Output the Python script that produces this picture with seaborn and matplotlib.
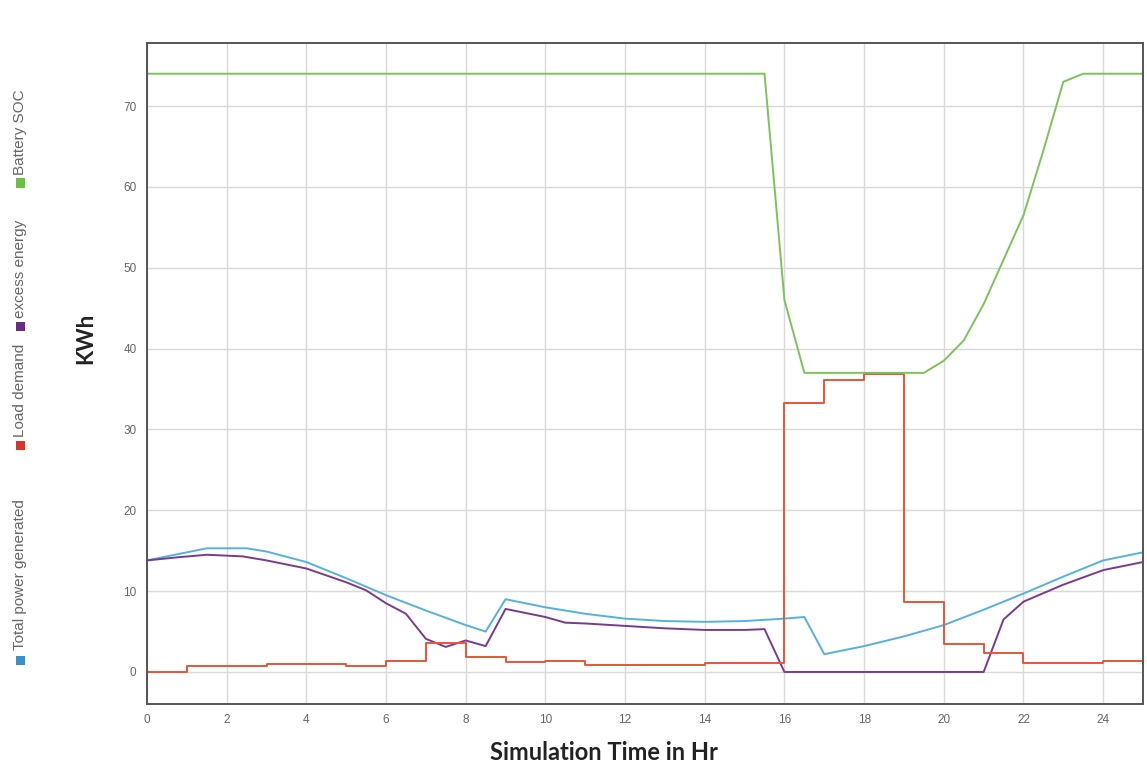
import matplotlib
matplotlib.use("Agg")
import matplotlib.pyplot as plt
from matplotlib.patches import Rectangle
import seaborn as sns

# Hourly simulation series (kWh)
gen_hours = [0, 0.8, 1.5, 2.5, 3, 4, 5, 6, 7, 8, 8.5, 9, 10, 11, 12, 13, 14, 15,
             16, 16.5, 17, 18, 19, 20, 21, 22, 23, 24, 25]
gen_kwh = [13.8, 14.6, 15.3, 15.3, 14.9, 13.6, 11.6, 9.5, 7.6, 5.8, 5.0, 9.0, 8.0,
           7.2, 6.6, 6.3, 6.2, 6.3, 6.6, 6.8, 2.2, 3.2, 4.4, 5.8, 7.7, 9.7, 11.8,
           13.8, 14.8]

load_hours = [0, 1, 3, 5, 6, 7, 8, 9, 10, 11, 14, 16, 17, 18, 19, 20, 21, 22, 24, 25]
load_kwh = [0, 0.8, 1.0, 0.8, 1.4, 3.6, 1.9, 1.2, 1.3, 0.9, 1.1, 33.3, 36.1, 36.8,
            8.7, 3.4, 2.3, 1.1, 1.3, 1.3]

excess_hours = [0, 0.8, 1.5, 2.4, 3, 4, 5, 5.5, 6, 6.5, 7, 7.5, 8, 8.5, 9, 10,
                10.5, 11, 12, 13, 14, 15, 15.5, 16, 21, 21.5, 22, 23, 24, 25]
excess_kwh = [13.8, 14.2, 14.5, 14.3, 13.8, 12.8, 11.1, 10.1, 8.5, 7.2, 4.1, 3.1,
              3.9, 3.2, 7.8, 6.8, 6.1, 6.0, 5.7, 5.4, 5.2, 5.2, 5.3, 0, 0, 6.5,
              8.7, 10.8, 12.6, 13.6]

soc_hours = [0, 15.5, 16, 16.5, 19.5, 20, 20.5, 21, 21.5, 22, 22.5, 23, 23.5, 25]
soc_kwh = [74, 74, 46, 37, 37, 38.5, 41, 45.5, 51, 56.5, 64.5, 73, 74, 74]

series_names = ["Total power generated", "Load demand", "excess energy", "Battery SOC"]
line_colors = ["#55b2dc", "#e8563a", "#7a3b8f", "#7cc35a"]
swatch_colors = ["#3b8fd0", "#d9352a", "#6a2c8a", "#6abf45"]

x_ticks = list(range(0, 25, 2))
y_ticks = [0, 10, 20, 30, 40, 50, 60, 70]

sns.set_style("white")
plt.rcParams["font.family"] = ["Liberation Sans", "DejaVu Sans"]

fig = plt.figure(figsize=(11.47, 7.69), dpi=100)
ax = fig.add_axes([147 / 1147, 65 / 769, 996 / 1147, 661 / 769])

lw = 1.4
sns.lineplot(x=gen_hours, y=gen_kwh, ax=ax, color=line_colors[0], lw=lw,
             sort=False, estimator=None)
sns.lineplot(x=excess_hours, y=excess_kwh, ax=ax, color=line_colors[2], lw=lw,
             sort=False, estimator=None)
sns.lineplot(x=load_hours, y=load_kwh, ax=ax, color=line_colors[1], lw=lw,
             sort=False, estimator=None, drawstyle="steps-post")
sns.lineplot(x=soc_hours, y=soc_kwh, ax=ax, color=line_colors[3], lw=lw,
             sort=False, estimator=None)

ax.set_xlim(0, 25)
ax.set_ylim(-3.96, 77.8)
ax.set_xticks(x_ticks)
ax.set_yticks(y_ticks)
ax.grid(True, color="#d9d9d9", lw=1.0)
ax.set_axisbelow(True)
for s in ax.spines.values():
    s.set_color("#555555")
    s.set_linewidth(1.4)
ax.tick_params(axis="both", length=3, width=1.2, color="#555555",
               labelsize=8.5, labelcolor="#666666", direction="inout", pad=6)
ax.set_xlabel("")
ax.set_ylabel("")

# Axis titles
fig.text(604 / 1147, 1 - 752 / 769, "Simulation Time in Hr", ha="center",
         va="center", fontsize=17, fontweight="bold", family="Lato", color="#222222")
fig.text(86 / 1147, 1 - 338 / 769, "KWh", ha="center", va="center", rotation=90,
         fontsize=16, fontweight="bold", family="Lato", color="#222222")

# Vertical legend along the left edge
swatch_y = [660, 445, 327, 183]
text_start = [650, 437, 318, 175]
sq = 9
for name, col, sy, ty in zip(series_names, swatch_colors, swatch_y, text_start):
    fig.patches.append(Rectangle(((20 - sq / 2) / 1147, 1 - (sy + sq / 2) / 769),
                                 sq / 1147, sq / 769, transform=fig.transFigure,
                                 facecolor=col, edgecolor="none"))
    fig.text(20 / 1147, 1 - ty / 769, name, rotation=90, ha="center", va="bottom",
             fontsize=11, color="#666666")

fig.savefig("out.png", dpi=100, facecolor="white")
